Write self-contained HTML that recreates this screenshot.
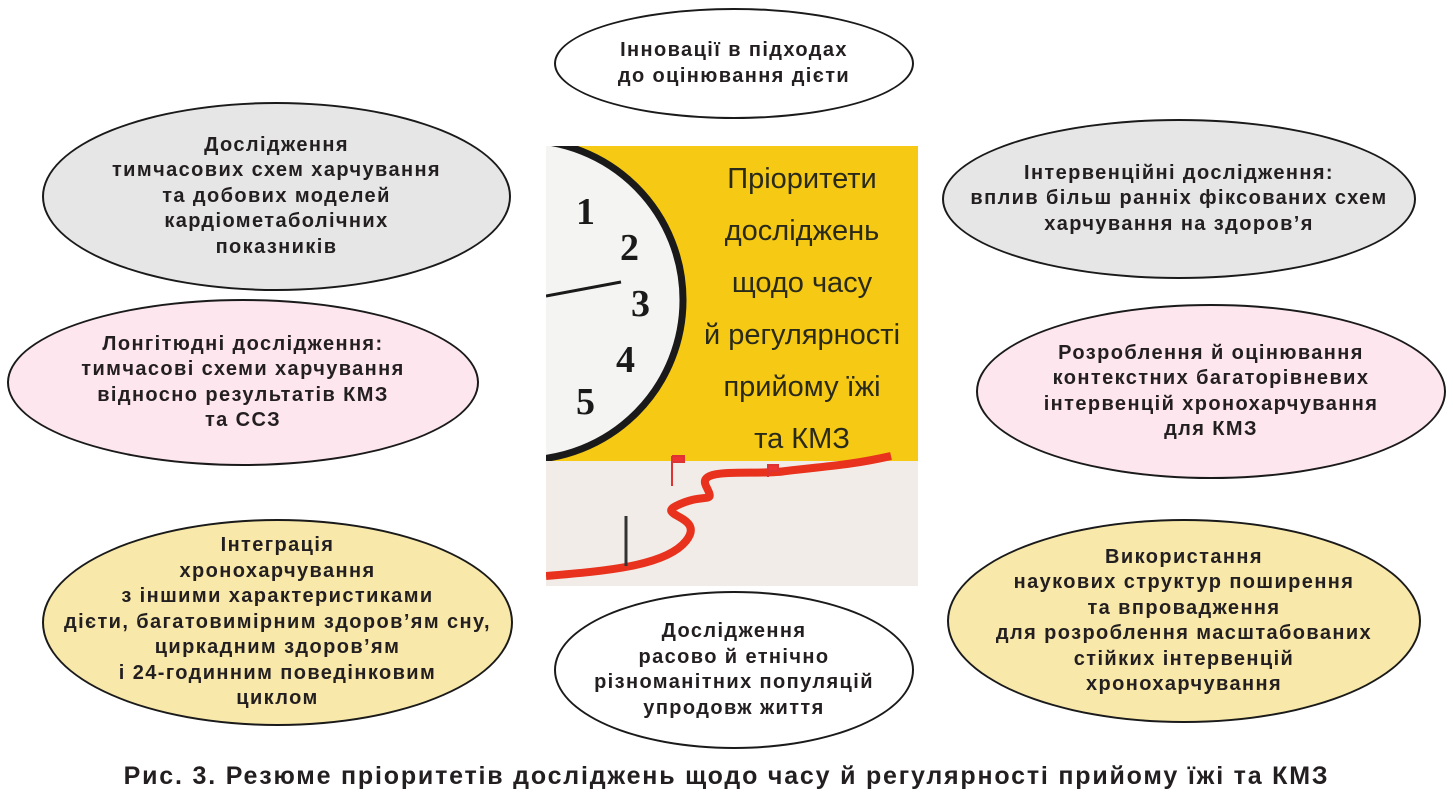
<!DOCTYPE html>
<html><head><meta charset="utf-8"><style>
body{margin:0;width:1453px;height:802px;background:#fff;position:relative;overflow:hidden;font-family:"Liberation Sans","DejaVu Sans",sans-serif}
.e{position:absolute;border:2.5px solid #1a1a1a;border-radius:50%;box-sizing:border-box;display:flex;align-items:center;justify-content:center;text-align:center;font-weight:bold;font-size:20px;letter-spacing:1.4px;line-height:25.5px;color:#231f20;white-space:nowrap}
.g{background:#e6e6e6}.p{background:#fde6ee}.y{background:#f8e8aa}.w{background:#fff}
.cap{position:absolute;left:0;width:1453px;top:762px;text-align:center;font-weight:bold;font-size:25px;letter-spacing:1.8px;color:#231f20;white-space:nowrap}
</style></head><body>
<div class="e w" style="left:554px;top:8px;width:360px;height:111px">Інновації в підходах<br>до оцінювання дієти</div>
<div class="e g" style="left:42px;top:102px;width:469px;height:189px">Дослідження<br>тимчасових схем харчування<br>та добових моделей<br>кардіометаболічних<br>показників</div>
<div class="e p" style="left:7px;top:299px;width:472px;height:167px">Лонгітюдні дослідження:<br>тимчасові схеми харчування<br>відносно результатів КМЗ<br>та ССЗ</div>
<div class="e y" style="left:42px;top:519px;width:471px;height:207px">Інтеграція<br>хронохарчування<br>з іншими характеристиками<br>дієти, багатовимірним здоров’ям сну,<br>циркадним здоров’ям<br>і 24-годинним поведінковим<br>циклом</div>
<div class="e g" style="left:942px;top:119px;width:474px;height:160px">Інтервенційні дослідження:<br>вплив більш ранніх фіксованих схем<br>харчування на здоров’я</div>
<div class="e p" style="left:976px;top:304px;width:470px;height:175px">Розроблення й оцінювання<br>контекстних багаторівневих<br>інтервенцій хронохарчування<br>для КМЗ</div>
<div class="e y" style="left:947px;top:519px;width:474px;height:204px">Використання<br>наукових структур поширення<br>та впровадження<br>для розроблення масштабованих<br>стійких інтервенцій<br>хронохарчування</div>
<div class="e w" style="left:554px;top:591px;width:360px;height:158px">Дослідження<br>расово й етнічно<br>різноманітних популяцій<br>упродовж життя</div>
<svg style="position:absolute;left:546px;top:146px" width="372" height="440" viewBox="0 0 372 440">
<defs><clipPath id="c"><rect width="372" height="315"/></clipPath></defs>
<rect width="372" height="315" fill="#f5c914"/>
<rect y="315" width="372" height="125" fill="#f1ece7"/>
<g clip-path="url(#c)">
<circle cx="-23" cy="154" r="160" fill="#f4f4f2" stroke="#1a1a1a" stroke-width="7"/>
<line x1="0" y1="150" x2="75" y2="136" stroke="#1a1a1a" stroke-width="3"/>
<g font-family="Liberation Serif,serif" font-weight="bold" font-size="38" fill="#1a1a1a">
<text x="30" y="78">1</text><text x="74" y="114">2</text><text x="85" y="170">3</text><text x="70" y="226">4</text><text x="30" y="268">5</text></g>
</g>
<g font-size="29" fill="#2a2a1a" text-anchor="middle" font-family="Liberation Sans,sans-serif">
<text x="256" y="42">Пріоритети</text><text x="256" y="94">досліджень</text><text x="256" y="146">щодо часу</text><text x="256" y="198">й регулярності</text><text x="256" y="250">прийому їжі</text><text x="256" y="302">та КМЗ</text></g>
<path d="M0 430 C60 425 120 420 140 395 C160 370 110 370 130 360 C160 345 170 360 160 340 C150 320 210 330 240 325 C280 320 300 320 345 310" fill="none" stroke="#e8321e" stroke-width="8"/>
<line x1="80" y1="370" x2="80" y2="420" stroke="#333" stroke-width="3"/>
<path d="M126 310 v30 M126 310 h12 v6 h-12" stroke="#d33" stroke-width="2" fill="#e33"/>
<path d="M222 331 v-12 h10 v6 h-10" stroke="#d33" stroke-width="2" fill="#e33"/>
</svg>
<div class="cap">Рис. 3. Резюме пріоритетів досліджень щодо часу й регулярності прийому їжі та КМЗ</div>
</body></html>
